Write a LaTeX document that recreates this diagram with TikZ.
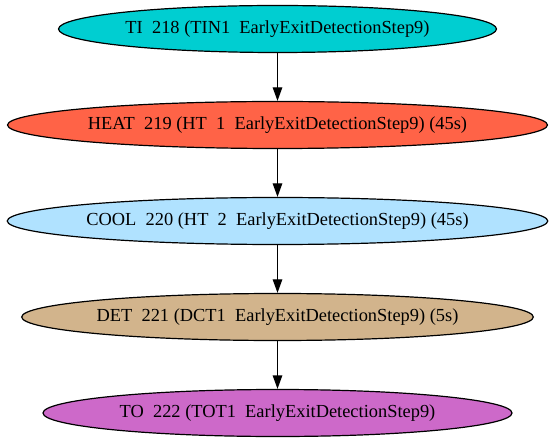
\documentclass[tikz,border=0pt]{standalone}
\usepackage{fontspec}
\setmainfont{Liberation Serif}
\usetikzlibrary{shapes.geometric,arrows.meta}
\definecolor{cTI}{HTML}{00CED1}
\definecolor{cHEAT}{HTML}{FF6347}
\definecolor{cCOOL}{HTML}{B0E2FF}
\definecolor{cDET}{HTML}{D2B48C}
\definecolor{cTO}{HTML}{CD69C9}
\tikzset{
  stepell/.style={ellipse, draw=black, line width=1.2bp, inner sep=0pt, minimum height=47bp,
    font=\fontsize{18.4bp}{21bp}\selectfont},
  conn/.style={line width=1.2bp, -{Triangle[length=13.5bp,width=9.5bp]}}
}
\begin{document}
\begin{tikzpicture}[x=1bp,y=-1bp]
\useasboundingbox (0,0) rectangle (555,443);
\node[stepell, fill=cTI, minimum width=438bp] (ti) at (277.5,29) {TI\ \ 218 (TIN1\ \ EarlyExitDetectionStep9)};
\node[stepell, fill=cHEAT, minimum width=540bp] (heat) at (277.5,125) {HEAT\ \ 219 (HT\ \ 1\ \ EarlyExitDetectionStep9) (45s)};
\node[stepell, fill=cCOOL, minimum width=534bp] (cool) at (277.5,221) {COOL\ \ 220 (HT\ \ 2\ \ EarlyExitDetectionStep9) (45s)};
\node[stepell, fill=cDET, minimum width=511bp] (det) at (277.5,317) {DET\ \ 221 (DCT1\ \ EarlyExitDetectionStep9) (5s)};
\node[stepell, fill=cTO, minimum width=469bp] (to) at (277.5,413) {TO\ \ 222 (TOT1\ \ EarlyExitDetectionStep9)};
\draw[conn] (ti) -- (heat);
\draw[conn] (heat) -- (cool);
\draw[conn] (cool) -- (det);
\draw[conn] (det) -- (to);
\end{tikzpicture}
\end{document}
